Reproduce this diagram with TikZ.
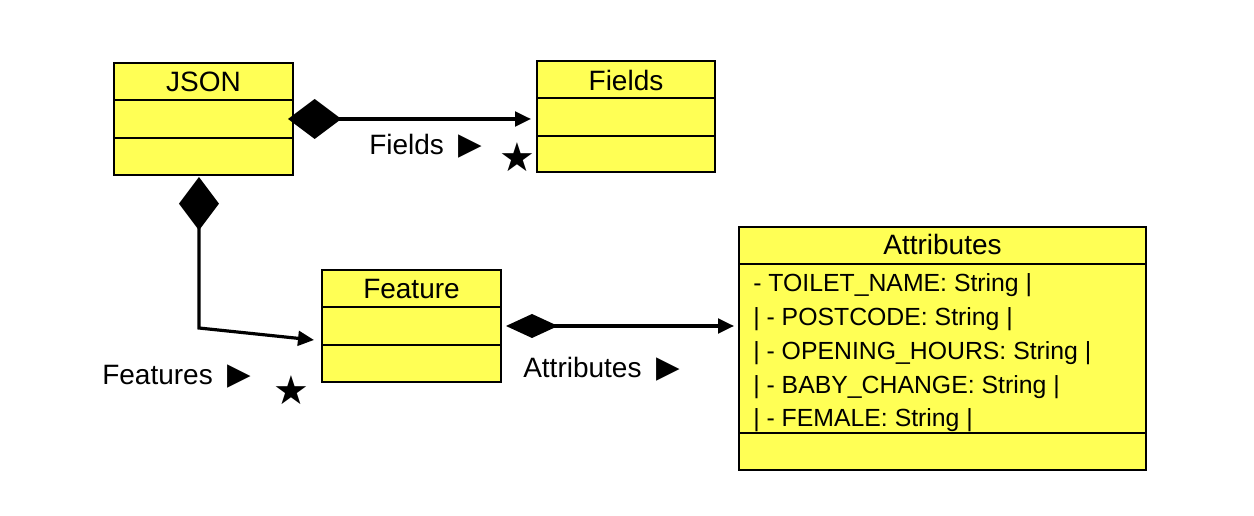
\documentclass[tikz,border=0pt]{standalone}
\usepackage{fontspec}
\setmainfont{Liberation Sans}
\newfontfamily\symfont{DejaVu Sans}
\usetikzlibrary{arrows.meta}
\definecolor{umlyellow}{RGB}{255,255,85}
\newcommand{\tri}{{\symfont\fontsize{23}{23}\selectfont▶}}
\tikzset{
  umlbox/.style={draw=black, line width=1.5pt, fill=umlyellow, inner sep=0pt},
  divider/.style={draw=black, line width=1.5pt},
  title/.style={font=\fontsize{21}{24}\selectfont, inner sep=0pt},
  lbl/.style={font=\fontsize{21}{24}\selectfont, inner sep=0pt},
  starlbl/.style={font=\symfont\fontsize{30}{30}\selectfont, inner sep=0pt},
  comp/.style={line width=2.4pt,
    {Diamond[length=40pt,width=30pt]}-{Triangle[length=12pt,width=11pt]}},
  compflat/.style={line width=2.4pt,
    {Diamond[length=39pt,width=18pt]}-{Triangle[length=12pt,width=11pt]}}
}
\begin{document}
\begin{tikzpicture}[x=0.75pt,y=-0.75pt]
\useasboundingbox (0,0) rectangle (1254,516);
\fill[white] (0,0) rectangle (1254,516);

% boxes
\node[umlbox, minimum width=134.25pt, minimum height=84pt] (json) at (203.5,119) {};
\node[umlbox, minimum width=133.5pt, minimum height=83.25pt] (fields) at (626,116.5) {};
\node[umlbox, minimum width=134.25pt, minimum height=84pt] (feature) at (411.5,326) {};
\node[umlbox, minimum width=305.25pt, minimum height=182.25pt] (attrs) at (942.5,348.5) {};

% dividers
\foreach \b in {json,fields,feature}{
  \draw[divider] ([yshift=-28.5pt]\b.north west) -- ([yshift=-28.5pt]\b.north east);
  \draw[divider] ([yshift=-57pt]\b.north west) -- ([yshift=-57pt]\b.north east);
}
\draw[divider] ([yshift=-28.5pt]attrs.north west) -- ([yshift=-28.5pt]attrs.north east);
\draw[divider] ([yshift=28.5pt]attrs.south west) -- ([yshift=28.5pt]attrs.south east);

% titles
\node[title] (tjson) at ([yshift=-15pt]json.north) {JSON};
\node[title] (tfields) at ([yshift=-15pt]fields.north) {Fields};
\node[title] (tfeature) at ([yshift=-15pt]feature.north) {Feature};
\node[title] (tattrs) at ([yshift=-14pt]attrs.north) {Attributes};

% attribute list
\node[anchor=west, align=left, inner sep=0pt, font=\fontsize{18.6}{25.3}\selectfont] (attrlist) at (753,353)
  {- TOILET\_NAME: String |\\
   | - POSTCODE: String |\\
   | - OPENING\_HOURS: String |\\
   | - BABY\_CHANGE: String |\\
   | - FEMALE: String |};

% connectors
\draw[comp] ([xshift=-4.5pt]json.east) -- ([xshift=-3.75pt]fields.west |- json.east);
\draw[comp] ([xshift=-3.4pt,yshift=-0.75pt]json.south) -- ++(0,151) -- ([shift={(-7,14)}]feature.west);
\draw[compflat] ([xshift=3pt]feature.east) -- ([xshift=-3pt]attrs.west |- feature.east);

% labels
\node[lbl, anchor=west] (lfields) at (369,146) {Fields\hspace{11pt}\tri};
\node[lbl, anchor=west] (lfeatures) at (102,377) {Features\hspace{11pt}\tri};
\node[lbl, anchor=west] (lattrs) at (523,369) {Attributes\hspace{11pt}\tri};
\node[starlbl] (sfields) at (517,157) {★};
\node[starlbl] (sfeatures) at (291,390) {★};
\end{tikzpicture}
\end{document}
